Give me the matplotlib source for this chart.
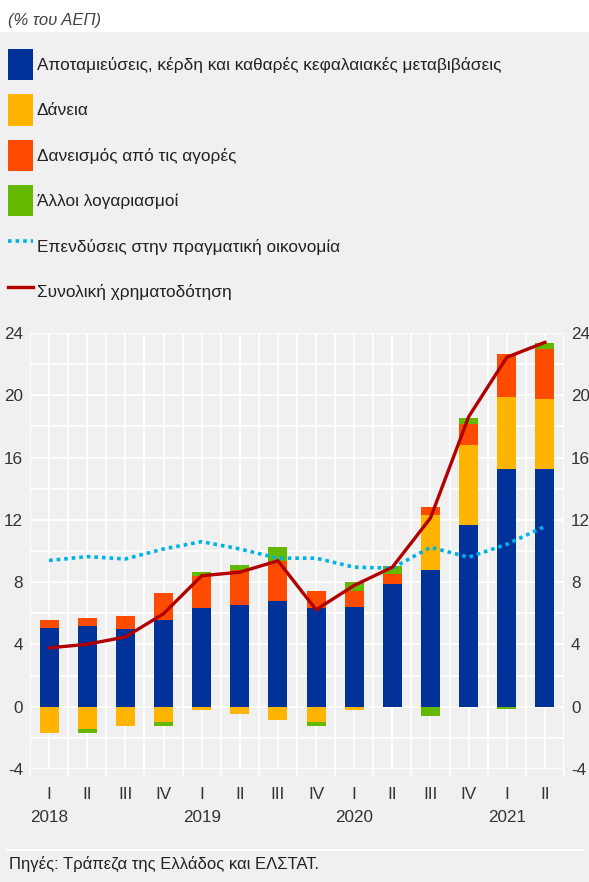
import matplotlib
matplotlib.use("Agg")
import matplotlib.pyplot as plt
import matplotlib.transforms as mtransforms
from matplotlib.patches import Patch
from matplotlib.lines import Line2D
import numpy as np

plt.rcParams['font.family'] = ['Liberation Sans', 'DejaVu Sans']
plt.rcParams['axes.unicode_minus'] = False

quarters = ["I", "II", "III", "IV", "I", "II", "III", "IV", "I", "II", "III", "IV", "I", "II"]
years = ["2018", "2019", "2020", "2021"]
year_pos = [0, 4, 8, 12]

savings = [5.08, 5.20, 5.01, 5.59, 6.36, 6.55, 6.81, 6.36, 6.42, 7.89, 8.79, 11.67, 15.25, 15.25]
loans = [-1.71, -1.45, -1.24, -0.98, -0.21, -0.47, -0.85, -0.98, -0.21, 0.0, 3.52, 5.12, 4.61, 4.48]
market = [0.51, 0.52, 0.84, 1.73, 2.05, 2.24, 2.56, 1.09, 1.03, 0.64, 0.51, 1.34, 2.82, 3.22]
other = [0.0, -0.26, 0.0, -0.26, 0.25, 0.32, 0.89, -0.26, 0.57, 0.52, -0.60, 0.39, -0.15, 0.43]
investment = [9.39, 9.64, 9.49, 10.13, 10.60, 10.13, 9.54, 9.54, 8.96, 8.90, 10.24, 9.60, 10.43, 11.58]
total = [3.78, 4.01, 4.48, 5.97, 8.41, 8.64, 9.37, 6.23, 7.79, 8.96, 12.12, 18.62, 22.44, 23.40]

labels = ["Αποταμιεύσεις, κέρδη και καθαρές κεφαλαιακές μεταβιβάσεις",
          "Δάνεια",
          "Δανεισμός από τις αγορές",
          "Άλλοι λογαριασμοί",
          "Επενδύσεις στην πραγματική οικονομία",
          "Συνολική χρηματοδότηση"]
colors = ["#003299", "#FFB400", "#FF4B00", "#65B800", "#00B1EA", "#B20000"]

BG = "#F0F0F0"
W, H = 589, 882
fig = plt.figure(figsize=(W / 100, H / 100), dpi=100)
fig.patch.set_facecolor(BG)
# white top strip
fig.add_artist(plt.Rectangle((0, 1 - 32 / H), 1, 32 / H, transform=fig.transFigure,
                             facecolor="white", edgecolor="none", zorder=0))

ax = fig.add_axes([30 / W, 1 - 769 / H, (564 - 30) / W, (769 - 333) / H])
ax.set_facecolor(BG)

x = np.arange(len(quarters))
series = [savings, loans, market, other]
pos_base = np.zeros(len(x))
neg_base = np.zeros(len(x))
for vals, c in zip(series, colors[:4]):
    v = np.array(vals)
    p = np.where(v > 0, v, 0)
    n = np.where(v < 0, v, 0)
    ax.bar(x, p, bottom=pos_base, width=0.5, color=c, zorder=3, linewidth=0)
    ax.bar(x, n, bottom=neg_base, width=0.5, color=c, zorder=3, linewidth=0)
    pos_base += p
    neg_base += n

ax.plot(x, investment, color=colors[4], linewidth=2.6, linestyle=(0, (1, 1.1)), zorder=4)
ax.plot(x, total, color=colors[5], linewidth=2.4, zorder=5, solid_joinstyle='miter')

ax.set_xlim(-0.5, len(x) - 0.5)
ax.set_ylim(-4, 24)
ax.set_yticks(np.arange(-4, 25, 4))
ax.set_yticks(np.arange(-4, 25, 2), minor=True)
ax.set_xticks(x)
ax.set_xticklabels(quarters)
ax.set_xticks(np.arange(-0.5, len(x), 1), minor=True)

ax.grid(True, which='both', color='white', linewidth=1.3, zorder=0)
ax.set_axisbelow(True)
for s in ax.spines.values():
    s.set_visible(False)

ax.tick_params(axis='y', which='both', length=0, labelsize=12.3, labelcolor="#333333",
               labelleft=True, labelright=True, pad=5)
ax.tick_params(axis='x', which='major', length=0, labelsize=12.3, labelcolor="#333333", pad=13)
ax.tick_params(axis='x', which='minor', length=5, color='white', width=1.3, direction='out')

trans = mtransforms.blended_transform_factory(ax.transData, ax.transAxes)
for yp, yl in zip(year_pos, years):
    ax.annotate(yl, xy=(yp, 0), xycoords=trans, xytext=(0, -48), textcoords='offset pixels',
                ha='center', va='center', fontsize=12.3, color="#333333")

handles = [Patch(facecolor=c, edgecolor='none') for c in colors[:4]]
handles.append(Line2D([], [], color=colors[4], linewidth=2.6, linestyle=(0, (1, 1.1))))
handles.append(Line2D([], [], color=colors[5], linewidth=2.4))
fs = 12.4
fig.legend(handles, labels, loc='upper left', bbox_to_anchor=(8 / W, 1 - 49 / H),
           frameon=False, fontsize=fs, handlelength=1.45, handleheight=2.4,
           handletextpad=0.22, labelspacing=0.835, borderpad=0, borderaxespad=0,
           labelcolor="#222222")

fig.text(8 / W, 1 - 20 / H, "(% του ΑΕΠ)", fontsize=12, style='italic', color="#444444",
         ha='left', va='center')

fig.add_artist(Line2D([7 / W, 583 / W], [1 - 850 / H, 1 - 850 / H], transform=fig.transFigure,
                      color='white', linewidth=1.5))
fig.text(9 / W, 1 - 864 / H, "Πηγές: Τράπεζα της Ελλάδος και ΕΛΣΤΑΤ.", fontsize=12,
         color="#222222", ha='left', va='center')

fig.savefig("out.png", dpi=100, facecolor=fig.get_facecolor())
